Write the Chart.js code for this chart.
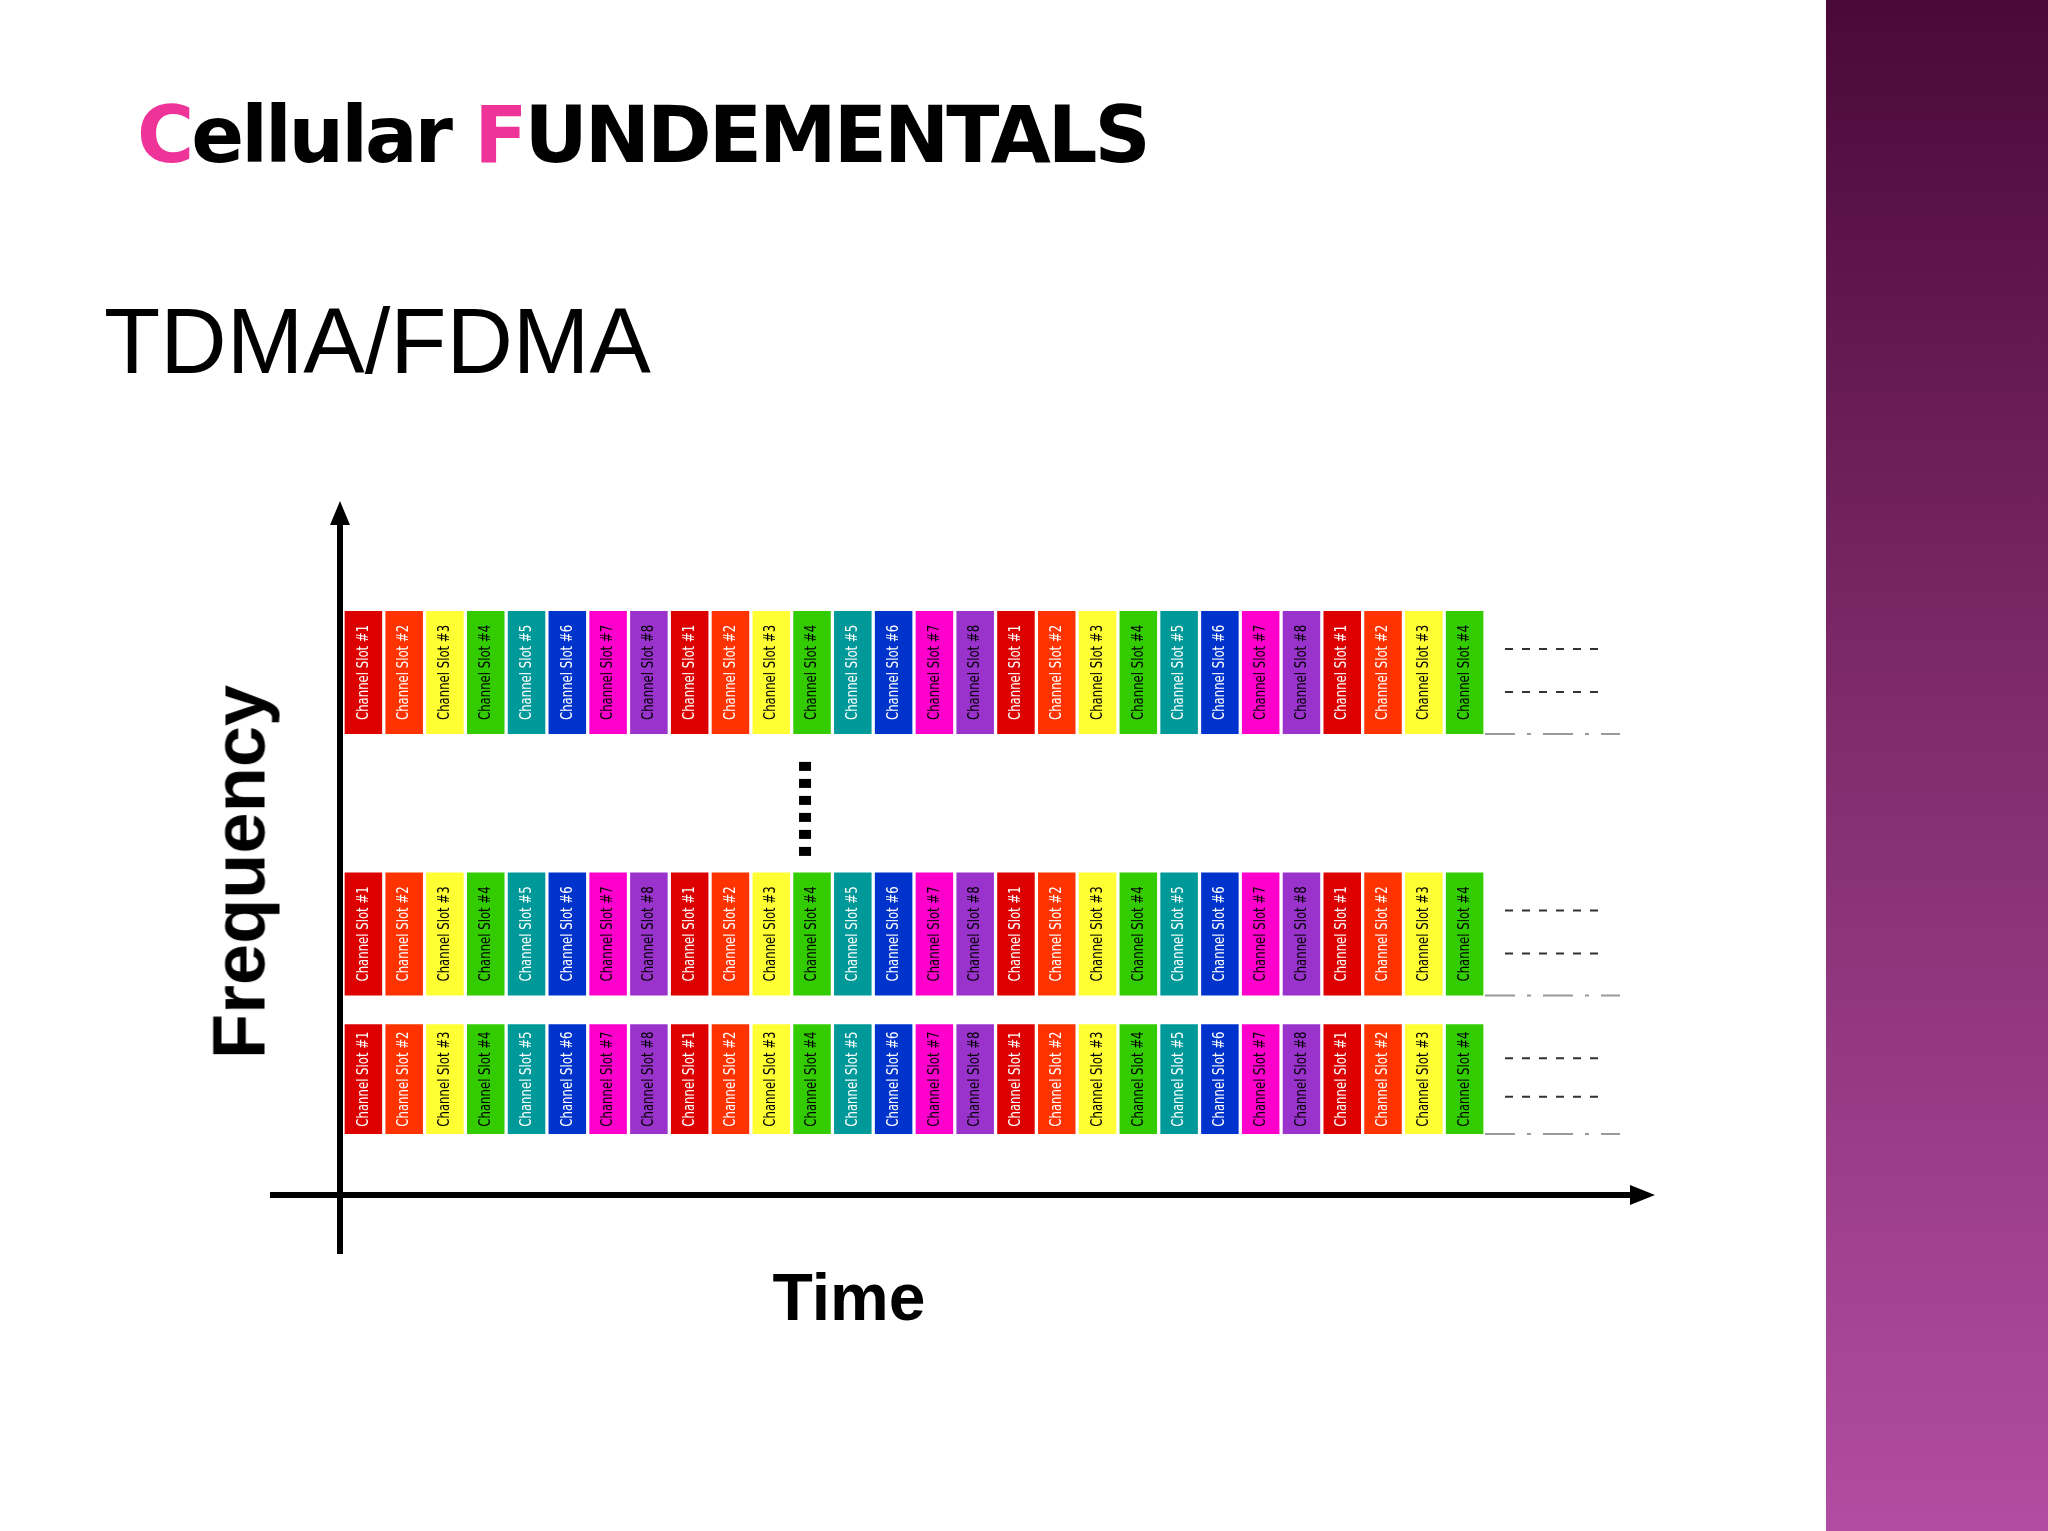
<!DOCTYPE html>
<html><head><meta charset="utf-8">
<script src="https://cdn.jsdelivr.net/npm/chart.js@4"></script>
<style>
html,body{margin:0;padding:0;width:2048px;height:1531px;overflow:hidden;background:#fff;}
#side{position:absolute;left:1826px;top:0;width:222px;height:1531px;background:linear-gradient(#4a0838,#7e2a6a 45%,#b24ca2);}
#title{position:absolute;left:137px;top:90px;font:bold 78px "DejaVu Sans",sans-serif;letter-spacing:-3px;color:#000;white-space:nowrap;}
#title span{color:#ee3399;}
#sub{position:absolute;left:104px;top:289px;font:92px "Liberation Sans",Arial,sans-serif;color:#000;white-space:nowrap;}
#freq{position:absolute;left:239px;top:872px;transform:translate(-50%,-50%) rotate(-90deg);font:bold 74px "Liberation Sans",Arial,sans-serif;white-space:nowrap;}
#time{position:absolute;left:849px;top:1297px;transform:translate(-50%,-50%);font:bold 66px "Liberation Sans",Arial,sans-serif;white-space:nowrap;}
#c{position:absolute;left:0;top:0;}
</style></head><body>
<div id="side"></div>
<div id="title"><span>C</span>ellular <span>F</span>UNDEMENTALS</div>
<div id="sub">TDMA/FDMA</div>
<canvas id="c" width="2048" height="1531"></canvas>
<div id="freq">Frequency</div>
<div id="time">Time</div>
<script>
const slotNumbers = [1,2,3,4,5,6,7,8,1,2,3,4,5,6,7,8,1,2,3,4,5,6,7,8,1,2,3,4];
const slotColors = {1:'#dd0000',2:'#ff3300',3:'#ffff33',4:'#33cc00',5:'#009999',6:'#0033cc',7:'#ff00cc',8:'#9933cc'};
const textColors = {1:'#fff',2:'#fff',3:'#000',4:'#000',5:'#fff',6:'#fff',7:'#000',8:'#000'};
const rowNames = ['Carrier N','Carrier 2','Carrier 1'];
const rowRanges = [[7.65,10],[2.65,5],[0,2.1]];

const labels = slotNumbers.map((n,i)=>'Channel Slot #'+n);
const datasets = rowNames.map((name,r)=>({
  label:name,
  data: slotNumbers.map(()=>rowRanges[r]),
  backgroundColor: slotNumbers.map(n=>slotColors[n]),
  borderWidth:0, barPercentage:0.92, categoryPercentage:1, grouped:false
}));

const deco = {
  id:'deco',
  afterDatasetsDraw(chart){
    const ctx = chart.ctx;
    ctx.save();
    chart.data.datasets.forEach((ds,di)=>{
      chart.getDatasetMeta(di).data.forEach((bar,i)=>{
        const n = slotNumbers[i];
        const cy = (bar.y+bar.base)/2;
        ctx.save();
        ctx.translate(bar.x, cy);
        ctx.rotate(-Math.PI/2);
        ctx.fillStyle = textColors[n];
        ctx.font = '13px "DejaVu Sans Condensed","DejaVu Sans",sans-serif';
        ctx.textAlign='center'; ctx.textBaseline='middle';
        ctx.save(); ctx.scale(1,1.25);
        ctx.fillText('Channel Slot #'+n,0,0);
        ctx.restore();
        ctx.restore();
      });
    });
    const xs = chart.scales.x, ys = chart.scales.y;
    const endX = xs.right;
    ctx.strokeStyle='#333'; ctx.lineWidth=2; ctx.setLineDash([8,9]);
    rowRanges.forEach(([lo,hi])=>{
      const yt = ys.getPixelForValue(hi), yb = ys.getPixelForValue(lo);
      const h = yb-yt;
      [0.31,0.66].forEach(f=>{
        ctx.beginPath(); ctx.moveTo(endX+20, yt+h*f); ctx.lineTo(endX+118, yt+h*f); ctx.stroke();
      });
      ctx.strokeStyle='#999'; ctx.setLineDash([30,12,4,12]);
      ctx.beginPath(); ctx.moveTo(endX, yb); ctx.lineTo(endX+135, yb); ctx.stroke();
      ctx.strokeStyle='#333'; ctx.setLineDash([8,9]);
    });
    ctx.setLineDash([]);
    const dx = xs.getPixelForValue(11) - 7;
    ctx.fillStyle='#000';
    const y1 = ys.getPixelForValue(rowRanges[0][0])+28, y2 = ys.getPixelForValue(rowRanges[1][1])-10;
    for(let y=y1;y<y2;y+=17){ ctx.fillRect(dx-6,y,12,9); }
    ctx.strokeStyle='#000'; ctx.lineWidth=6;
    ctx.beginPath(); ctx.moveTo(340,1254); ctx.lineTo(340,515); ctx.stroke();
    ctx.beginPath(); ctx.moveTo(270,1195); ctx.lineTo(1640,1195); ctx.stroke();
    ctx.beginPath(); ctx.moveTo(340,501); ctx.lineTo(330,525); ctx.lineTo(350,525); ctx.closePath(); ctx.fill();
    ctx.beginPath(); ctx.moveTo(1655,1195); ctx.lineTo(1630,1185); ctx.lineTo(1630,1205); ctx.closePath(); ctx.fill();
    ctx.restore();
  }
};

new Chart(document.getElementById('c'),{
  type:'bar',
  data:{labels, datasets},
  options:{
    responsive:false, animation:false,
    layout:{padding:{left:343,right:563,top:611,bottom:397}},
    plugins:{legend:{display:false},tooltip:{enabled:false}},
    scales:{
      x:{display:false, offset:true},
      y:{display:false, min:0, max:10}
    }
  },
  plugins:[deco]
});
</script>
</body></html>
